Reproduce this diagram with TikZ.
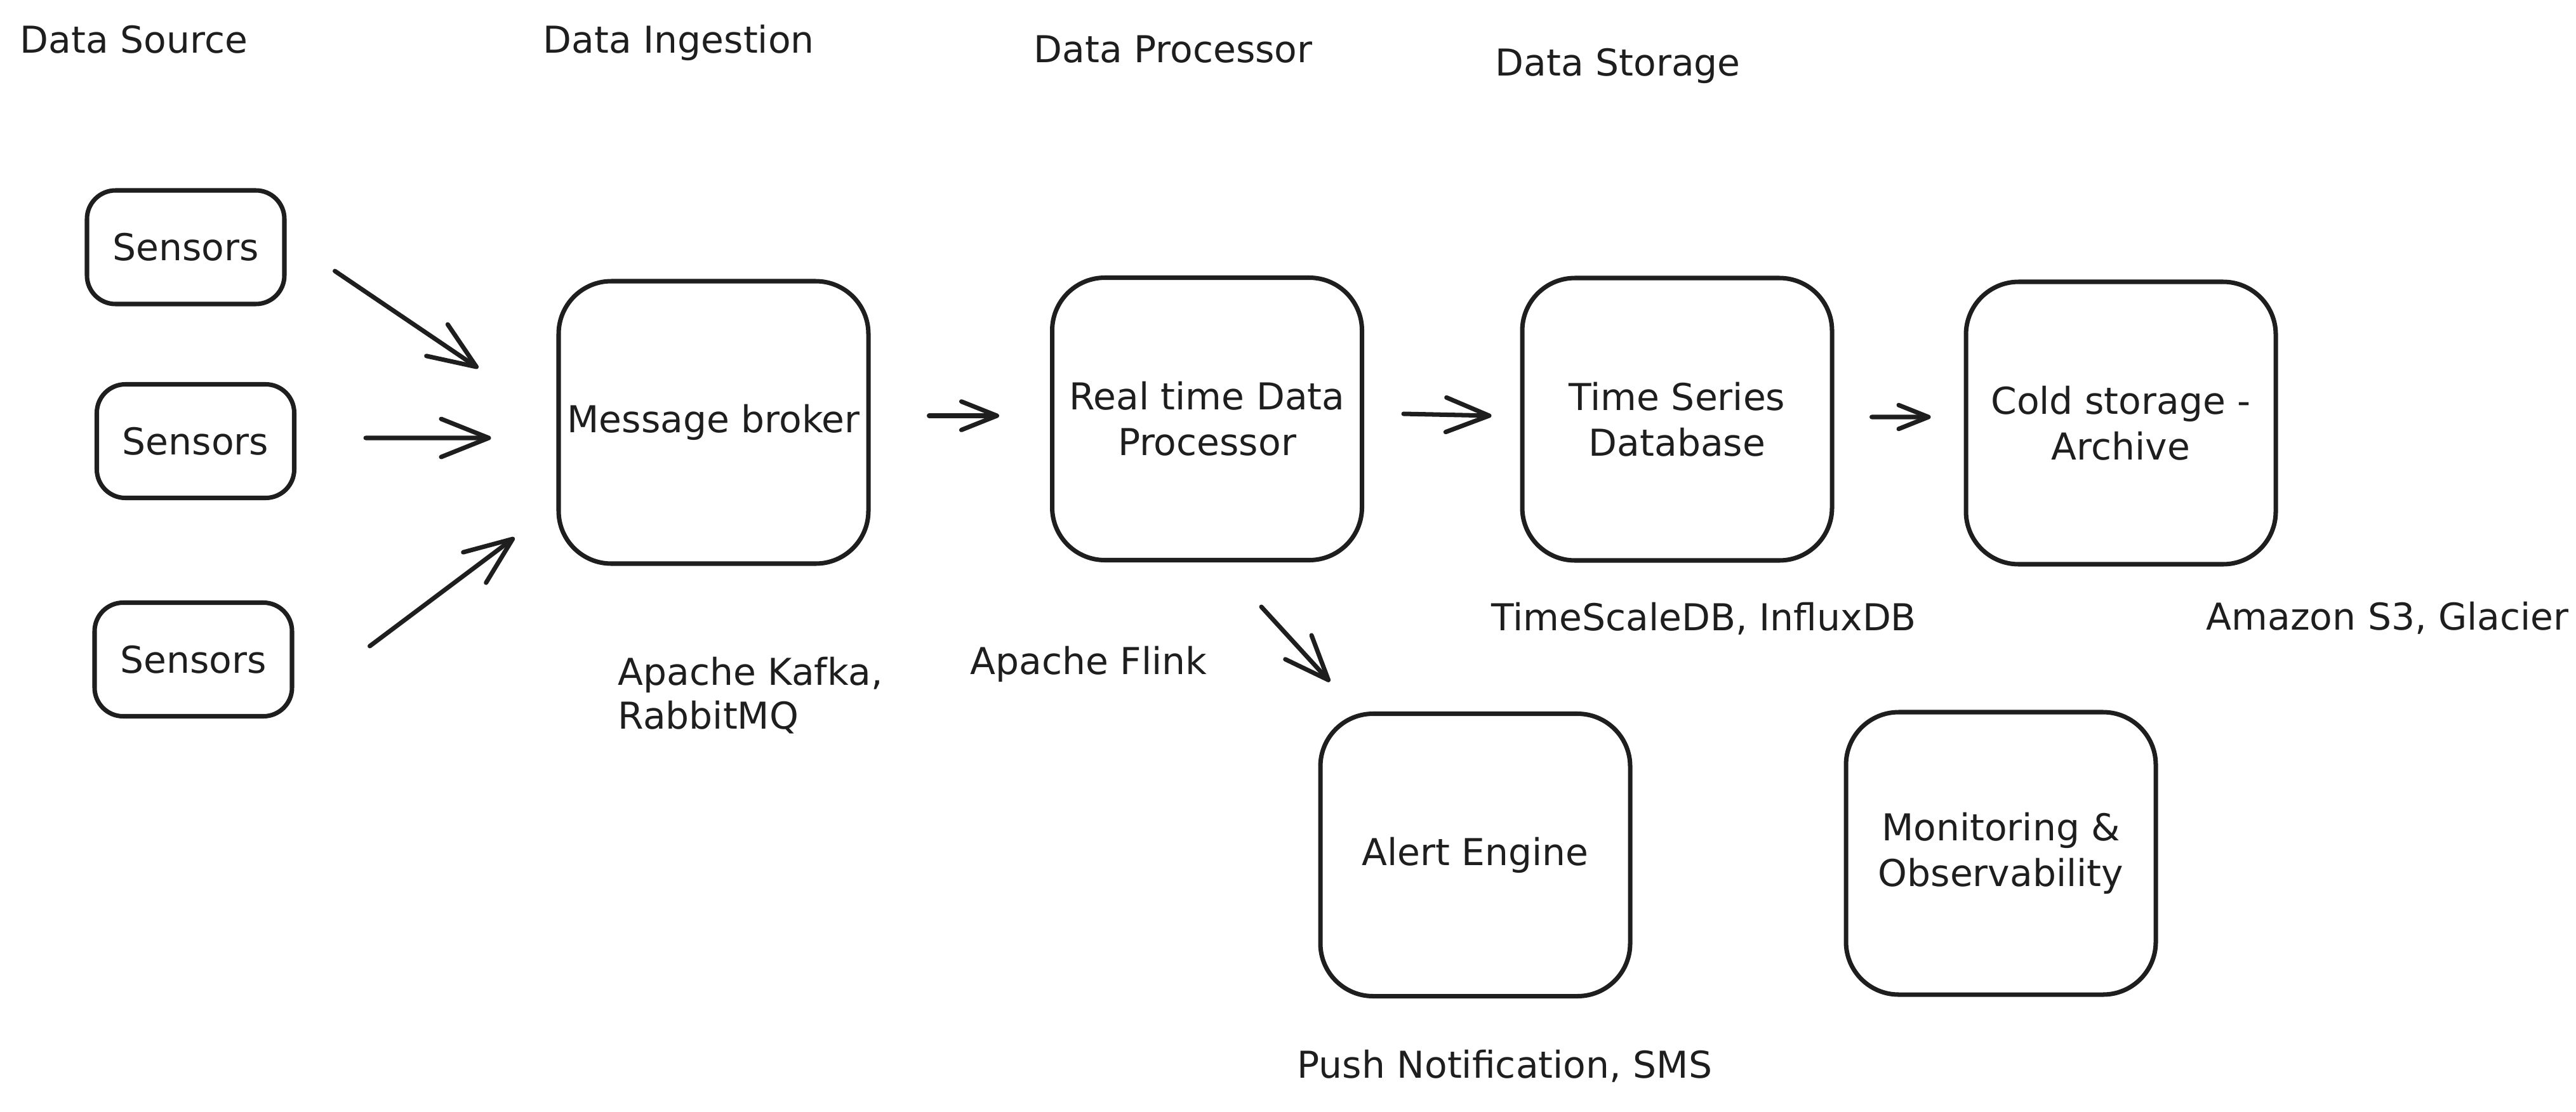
\documentclass[tikz,border=0pt]{standalone}
\usepackage{fontspec}
\setmainfont{DejaVu Sans}
\usetikzlibrary{arrows.meta}
\definecolor{ink}{HTML}{1E1E1E}
\begin{document}
\begin{tikzpicture}[x=1cm,y=1cm,
  txt/.style={text=ink, font=\fontsize{16.6pt}{20.5pt}\selectfont},
  bigbox/.style={txt, draw=ink, line width=2pt, rounded corners=0.83cm,
    minimum width=4.88cm, minimum height=4.45cm, inner sep=0pt, align=center},
  smallbox/.style={txt, draw=ink, line width=2pt, rounded corners=0.45cm,
    minimum width=3.11cm, minimum height=1.79cm, inner sep=0pt, align=center},
  lbl/.style={txt, anchor=base west, inner sep=0pt, align=left},
  arr/.style={draw=ink, line width=2pt, line cap=round,
    -{Straight Barb[length=#1, width=0.8*#1, line cap=round, line join=round]}},
  arr/.default=0.7cm
]
\useasboundingbox (0,0) rectangle (40.58,-17.52);

% headings
\node[lbl] (h1) at (0.31,-0.84) {Data Source};
\node[lbl] (h2) at (8.55,-0.83) {Data Ingestion};
\node[lbl] (h3) at (16.28,-0.99) {Data Processor};
\node[lbl] (h4) at (23.55,-1.19) {Data Storage};

% sensors
\node[smallbox] (s1) at (2.925,-3.895) {Sensors};
\node[smallbox] (s2) at (3.08,-6.95) {Sensors};
\node[smallbox] (s3) at (3.045,-10.39) {Sensors};

% main boxes
\node[bigbox] (mb) at (11.24,-6.655) {Message broker};
\node[bigbox] (rp) at (19.015,-6.60) {Real time Data\\Processor};
\node[bigbox] (ts) at (26.42,-6.605) {Time Series\\Database};
\node[bigbox] (cs) at (33.41,-6.665) {Cold storage -\\Archive};
\node[bigbox] (ae) at (23.24,-13.47) {Alert Engine};
\node[bigbox] (mo) at (31.52,-13.445) {Monitoring \&\\Observability};

% labels
\node[lbl] (l1) at (9.73,-11.48) {Apache Kafka,\\[-1pt]RabbitMQ};
\node[lbl] (l2) at (15.28,-10.62) {Apache Flink};
\node[lbl] (l3) at (23.49,-9.93) {TimeScaleDB, InfluxDB};
\node[lbl] (l4) at (34.75,-9.92) {Amazon S3, Glacier};
\node[lbl] (l5) at (20.43,-16.98) {Push Notification, SMS};

% connectors
\draw[arr=0.75cm] ([shift={(0.76,-0.375)}]s1.east) -- ([shift={(-1.23,0.855)}]mb.west);
\draw[arr=0.75cm] ([shift={(1.09,0.05)}]s2.east) -- ([shift={(-1.03,-0.245)}]mb.west);
\draw[arr=0.75cm] ([shift={(1.19,0.21)}]s3.east) -- ([shift={(-0.66,-1.815)}]mb.west);
\draw[arr=0.56cm] ([shift={(0.92,0.105)}]mb.east) -- ([shift={(-0.80,0.05)}]rp.west);
\draw[arr=0.68cm] ([shift={(0.62,0.08)}]rp.east) -- ([shift={(-0.45,0.055)}]ts.west);
\draw[arr=0.47cm] ([shift={(0.59,0.035)}]ts.east) -- ([shift={(-0.52,0.095)}]cs.west);
\draw[arr=0.70cm] ([shift={(0.855,-0.70)}]rp.south) -- ([shift={(-2.29,0.47)}]ae.north);
\end{tikzpicture}
\end{document}
